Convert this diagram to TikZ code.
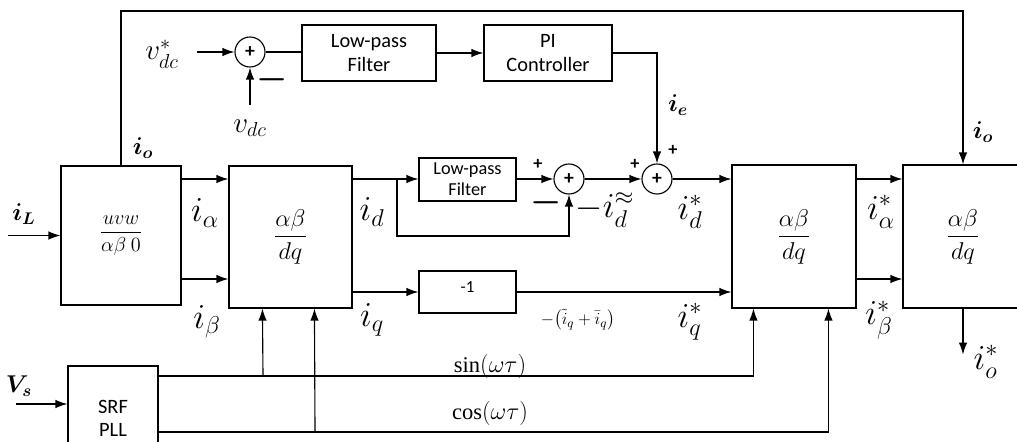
\documentclass[tikz,border=0pt]{standalone}
\usepackage{amsmath,bm}
\usepackage{fontspec}
\setmainfont{Liberation Serif}
\newfontfamily\boxfont{Carlito}
\usetikzlibrary{arrows.meta}

\begin{document}
\begin{tikzpicture}[x=0.025cm, y=-0.025cm, line width=0.8pt,
  every node/.style={font=\fontsize{16}{18}\selectfont},
  blk/.style={draw, rectangle, inner sep=0pt, align=center, font=\boxfont\fontsize{14.5}{16.5}\selectfont},
  sumnode/.style={draw, circle, minimum size=0.75cm, inner sep=0pt, font=\boxfont\bfseries\fontsize{14}{14}\selectfont},
  arr/.style={-{Latex[length=8.5pt,width=6pt]}},
  lbl/.style={font=\fontsize{25}{27}\selectfont},
  vlbl/.style={font=\fontsize{22}{24}\selectfont},
  bld/.style={font=\fontsize{17}{19}\selectfont},
  sgn/.style={font=\boxfont\bfseries\fontsize{13}{13}\selectfont}]
  \useasboundingbox (0,0) rectangle (1017,441);
  \clip (0,0) rectangle (1017,441);

  % blocks
  \node[blk, minimum width=3cm, minimum height=3.475cm] (uvw) at (121,235.5) {$\dfrac{uvw}{\alpha\beta\ 0}$};
  \node[blk, minimum width=3.075cm, minimum height=3.55cm, font=\fontsize{16}{18}\selectfont] (abdq) at (290.5,237) {$\dfrac{\alpha\beta}{dq}$};
  \node[blk, minimum width=3.1cm, minimum height=3.575cm, font=\fontsize{16}{18}\selectfont] (dqab) at (794,236.5) {$\dfrac{\alpha\beta}{dq}$};
  \node[blk, minimum width=3cm, minimum height=3.575cm, font=\fontsize{16}{18}\selectfont] (dqabo) at (963,236.5) {$\dfrac{\alpha\beta}{dq}$};
  \node[blk, minimum width=3.35cm, minimum height=1.4cm] (lpfdc) at (369,53) {Low-pass\\Filter};
  \node[blk, minimum width=3.2cm, minimum height=1.4cm] (pi) at (548,53) {PI\\Controller};
  \node[blk, minimum width=2.425cm, minimum height=1.075cm, font=\boxfont\fontsize{13}{15}\selectfont] (lpfd) at (467.5,179.5) {Low-pass\\Filter};
  \node[blk, minimum width=2.425cm, minimum height=1.05cm, font=\boxfont\fontsize{12}{14}\selectfont] (neg) at (467.5,292) {\raisebox{7pt}{-1}};
  \node[blk, minimum width=2.25cm, minimum height=2.6cm] (pll) at (113,418) {SRF\\PLL};

  % summing points
  \node[sumnode] (sum1) at (250,52) {+};
  \node[sumnode] (sum2) at (569,179) {+};
  \node[sumnode] (sum3) at (657,179) {+};

  % free ends and taps
  \coordinate (iLin) at (8,235.5);
  \coordinate (vsin) at (16,404);
  \coordinate (vref) at (197,52);
  \coordinate (vmeas) at (250,105);
  \coordinate (top) at (121,11);
  \coordinate (ra) at (0,179);
  \coordinate (rb) at (0,279);
  \coordinate (tap) at (397,179);
  \coordinate (sinrow) at (0,376);
  \coordinate (cosrow) at (0,432);
  \coordinate (sintap) at (263,376);
  \coordinate (costap) at (315,432);

  % connectors
  \draw[arr] (iLin) -- (uvw.west |- iLin);
  \draw[arr] (uvw.east |- ra) -- (abdq.west |- ra);
  \draw[arr] (uvw.east |- rb) -- (abdq.west |- rb);
  \draw[arr] (uvw.north) -- (top) -| (dqabo.north);
  \draw[arr] (vref) -- (sum1.west);
  \draw[arr] (vmeas) -- (sum1.south);
  \draw (sum1.east) -- (lpfdc.west |- sum1);
  \draw[arr] (lpfdc.east) -- (pi.west);
  \draw[arr] (pi.east) -| (sum3.north);
  \draw[arr] (abdq.east |- ra) -- (lpfd.west |- ra);
  \draw[arr] (tap) -- ++(0,57) -| (sum2.south);
  \draw[arr] (lpfd.east |- sum2) -- (sum2.west);
  \draw[arr] (sum2.east) -- (sum3.west);
  \draw[arr] (sum3.east) -- (dqab.west |- sum3);
  \draw[arr] (abdq.east |- neg) -- (neg.west);
  \draw[arr] (neg.east) -- (dqab.west |- neg);
  \draw[arr] (dqab.east |- ra) -- (dqabo.west |- ra);
  \draw[arr] (dqab.east |- rb) -- (dqabo.west |- rb);
  \draw[arr] (dqabo.south) -- ++(0,46);
  \draw[arr] (vsin) -- (pll.west |- vsin);
  \draw[arr] (pll.east |- sinrow) -| ([xshift=0.55cm]dqab.south west);
  \draw[arr] (sintap) -- ([xshift=0.85cm]abdq.south west);
  \draw[arr] (pll.east |- cosrow) -| ([xshift=2.425cm]dqab.south west);
  \draw[arr] (costap) -- ([xshift=2.15cm]abdq.south west);

  % labels
  \node[bld] (liL) at (24,214) {$\bm{i_L}$};
  \node[bld] (lio) at (143,148) {$\bm{i_o}$};
  \node[lbl] (lia) at (205,213) {$i_\alpha$};
  \node[lbl] (lib) at (207,322) {$i_\beta$};
  \node[vlbl] (lvref) at (162,54) {$v^{*}_{dc}$};
  \node[vlbl] (lvdc) at (250,128) {$v_{dc}$};
  \node[lbl] (lm1) at (272,80) {$\bm{-}$};
  \node[lbl] (lid) at (372,212) {$i_d$};
  \node[lbl] (liq) at (372,320) {$i_q$};
  \node[sgn] (lp2) at (538,164) {+};
  \node[lbl] (lm2) at (546,203) {$\bm{-}$};
  \node[lbl] (lidt) at (605,210) {$-i^{\approx}_d$};
  \node[sgn] (lp3a) at (635,164) {+};
  \node[sgn] (lp3b) at (673,150) {+};
  \node[bld] (lie) at (678,105) {$\bm{i_e}$};
  \node[lbl] (lids) at (690,212) {$i^{*}_d$};
  \node[lbl] (liqs) at (690,322) {$i^{*}_q$};
  \node[font=\fontsize{13}{15}\selectfont] (liqsum) at (578,320) {$-\bigl(\tilde{i}_q+\bar{i}_q\bigr)$};
  \node[lbl] (lias) at (881,212) {$i^{*}_\alpha$};
  \node[lbl] (libs) at (879,320) {$i^{*}_\beta$};
  \node[lbl] (lios) at (986,362) {$i^{*}_o$};
  \node[bld] (lio2) at (983,132) {$\bm{i_o}$};
  \node (lsin) at (490,366) {$\sin(\omega\tau)$};
  \node (lcos) at (490,413) {$\cos(\omega\tau)$};
  \node[bld] (lvs) at (19,386) {$\bm{V_s}$};
\end{tikzpicture}
\end{document}
